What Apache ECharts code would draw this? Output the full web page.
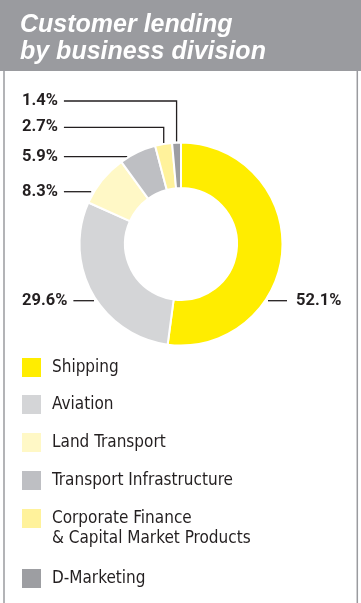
<!DOCTYPE html>
<html><head><meta charset="utf-8">
<script src="https://cdn.jsdelivr.net/npm/echarts@6/dist/echarts.min.js"></script>
<style>html,body{margin:0;padding:0;background:#fff}#c{width:361px;height:603px}</style>
</head><body><div id="c"></div>
<script>
// ---- data ----
const categories = ['Shipping', 'Aviation', 'Land Transport', 'Transport Infrastructure', 'Corporate Finance\n& Capital Market Products', 'D-Marketing'];
const shares = [52.1, 29.6, 8.3, 5.9, 2.7, 1.4];
const valueLabels = ['52.1%', '29.6%', '8.3%', '5.9%', '2.7%', '1.4%'];
const titleText = 'Customer lending\nby business division';

// ---- styles / layout ----
const colors = ['#FFED00', '#D4D5D7', '#FFF8C6', '#BEBFC3', '#FFF29B', '#9D9EA2'];
const CX = 181, CY = 244, R_OUT = 101.5, R_IN = 56, VIS_R = 100.5;
const labelLayoutCfg = [
  { side: 'right', y: 300.7 },
  { side: 'left', y: 300.7 },
  { side: 'left', y: 191.7 },
  { side: 'left', y: 156.7 },
  { side: 'left', y: 127.3, drop: true },
  { side: 'left', y: 101, drop: true }
];
const legendTops = [358, 395, 433, 471, 509, 569];
const LEGEND_FONT = "'DejaVu Sans Condensed', 'Liberation Sans Narrow', sans-serif";
const LABEL_FONT = "Roboto, 'DejaVu Sans Condensed', sans-serif";
const TEXT = '#231f20';

const total = shares.reduce((a, b) => a + b, 0);
const midAngles = [];
let cum = 0;
shares.forEach(v => { midAngles.push((cum + v / 2) / total * 2 * Math.PI); cum += v; });

const chart = echarts.init(document.getElementById('c'), null, { renderer: 'canvas' });

const LH = 20.5;
const legends = categories.map((name, i) => {
  const multi = name.indexOf('\n') >= 0;
  const lines = multi ? name.split('\n').length + 1 : 1;
  const lh = multi ? LH : 19;
  return {
    left: 22,
    top: multi ? legendTops[i] - (lines * lh) / 2 + 9.5 : legendTops[i],
    orient: 'vertical',
    padding: 0,
    icon: 'rect',
    itemWidth: 19,
    itemHeight: 19,
    selectedMode: false,
    itemStyle: { borderWidth: 0 },
    data: [name],
    formatter: n => (multi ? '\n' + n : n),
    textStyle: { fontFamily: LEGEND_FONT, fontSize: 17, color: TEXT, lineHeight: lh, padding: [0, 0, 0, 6] }
  };
});

const option = {
  animation: false,
  color: colors,
  title: {
    text: titleText,
    left: 20,
    top: 12,
    padding: 0,
    textStyle: {
      color: '#ffffff', fontSize: 25, fontWeight: 'bold', fontStyle: 'italic',
      fontFamily: "'Liberation Sans', Arial, sans-serif", lineHeight: 27
    }
  },
  graphic: [
    { type: 'rect', z: -10, shape: { x: 0, y: 0, width: 361, height: 71 }, style: { fill: '#9A9B9F' } },
    { type: 'line', z: -10, shape: { x1: 4, y1: 71, x2: 4, y2: 603 }, style: { stroke: '#9A9B9F', lineWidth: 1.5 } },
    { type: 'line', z: -10, shape: { x1: 357.3, y1: 71, x2: 357.3, y2: 603 }, style: { stroke: '#9A9B9F', lineWidth: 1.5 } }
  ],
  legend: legends,
  series: [{
    type: 'pie',
    center: [CX, CY],
    radius: [R_IN, R_OUT],
    startAngle: 90,
    clockwise: true,
    avoidLabelOverlap: false,
    itemStyle: { borderColor: '#ffffff', borderWidth: 2 },
    label: {
      show: true,
      formatter: p => valueLabels[p.dataIndex],
      fontFamily: LABEL_FONT, fontWeight: 'bold', fontSize: 16.5, color: TEXT
    },
    labelLine: { show: true, lineStyle: { color: TEXT, width: 1.3 }, smooth: false },
    labelLayout: function (p) {
      const i = p.dataIndex;
      const cfg = labelLayoutCfg[i];
      const w = p.labelRect.width;
      const y = cfg.y;
      if (cfg.side === 'left') {
        const lx = 22;
        const lineStart = lx + w + 6;
        let pts;
        if (cfg.drop) {
          const a = midAngles[i];
          const ax = CX + VIS_R * Math.sin(a);
          const ay = CY - VIS_R * Math.cos(a) - 2;
          pts = [[ax, ay], [ax, y], [lineStart, y]];
        } else {
          const dy = y - CY;
          const ax = CX - Math.sqrt(VIS_R * VIS_R - dy * dy) - 4;
          pts = [[ax, y], [ax, y], [lineStart, y]];
        }
        return { x: lx, y: y, align: 'left', verticalAlign: 'middle', labelLinePoints: pts };
      } else {
        const dy = y - CY;
        const ax = CX + Math.sqrt(VIS_R * VIS_R - dy * dy) + 4;
        const lx = 296;
        const lineEnd = lx - 9;
        return { x: lx, y: y, align: 'left', verticalAlign: 'middle', labelLinePoints: [[ax, y], [ax, y], [lineEnd, y]] };
      }
    },
    data: categories.map((name, i) => ({ name: name, value: shares[i] }))
  }]
};
chart.setOption(option);
</script>
</body></html>
